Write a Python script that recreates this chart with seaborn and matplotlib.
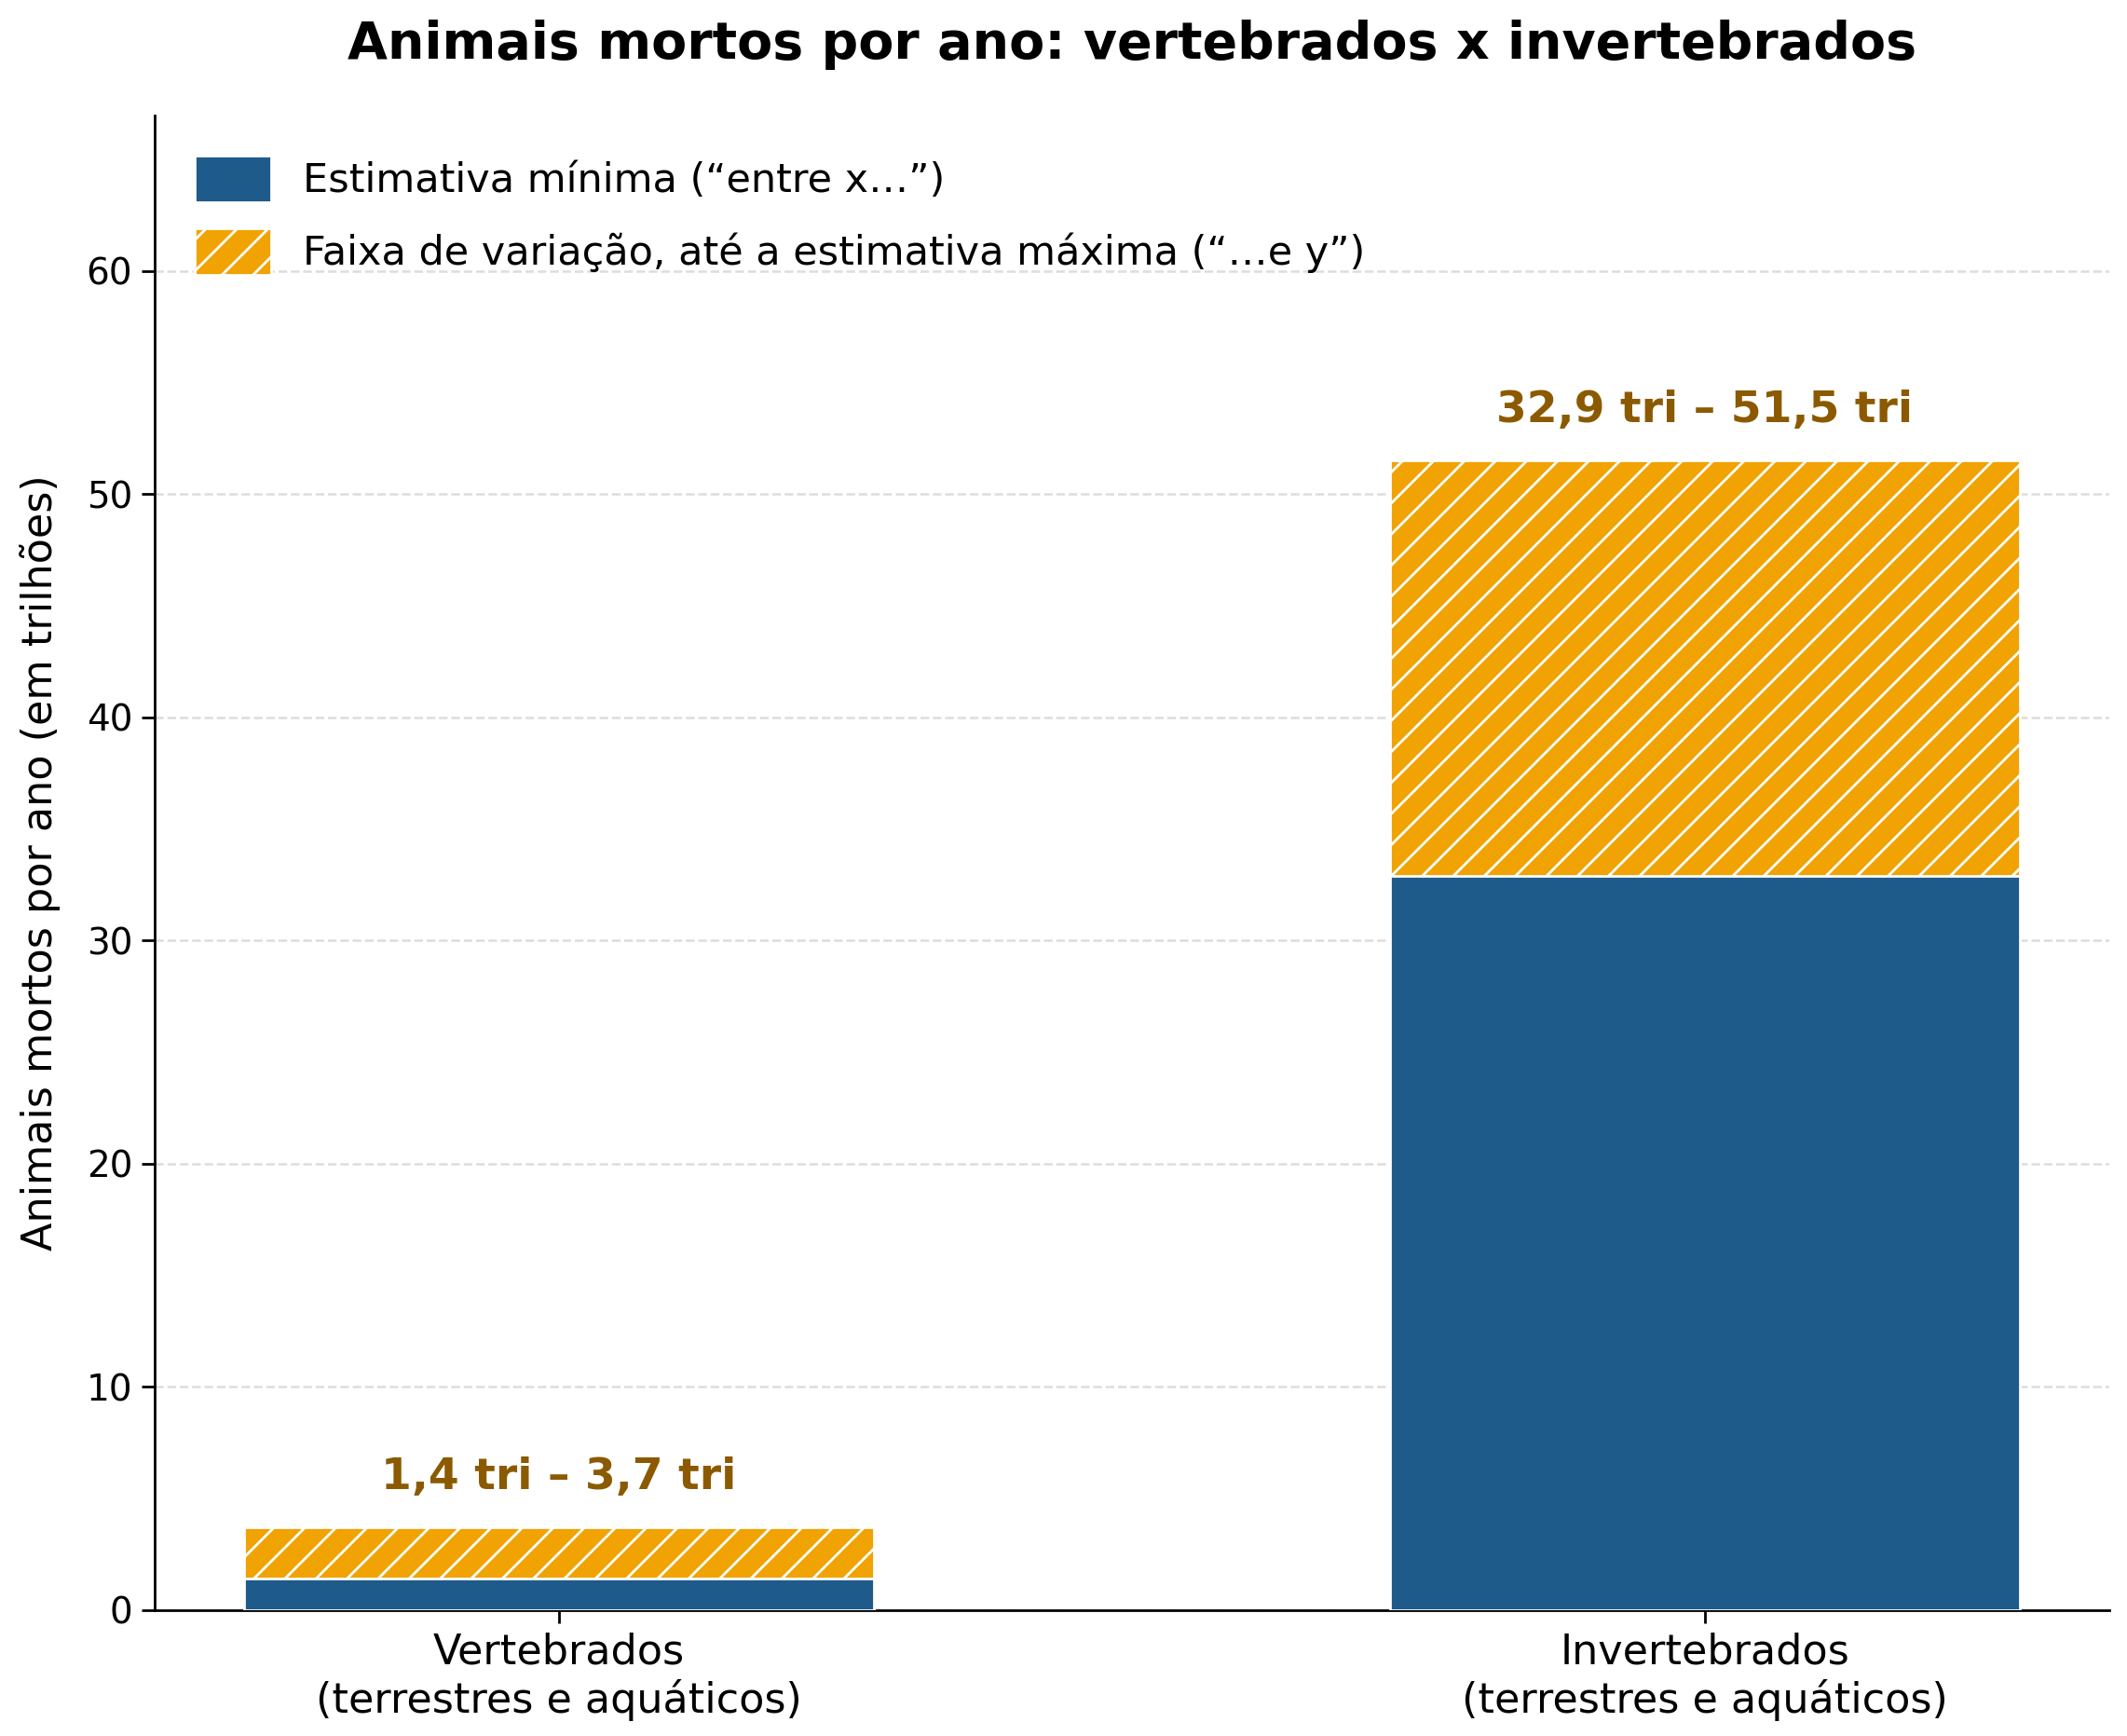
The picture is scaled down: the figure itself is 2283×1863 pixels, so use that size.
import matplotlib
matplotlib.use("Agg")
import matplotlib.pyplot as plt
import seaborn as sns
import pandas as pd
from matplotlib.patches import Patch

categories = ["Vertebrados\n(terrestres e aquáticos)", "Invertebrados\n(terrestres e aquáticos)"]
min_values = [1.4, 32.9]
max_values = [3.7, 51.5]
labels = ["1,4 tri – 3,7 tri", "32,9 tri – 51,5 tri"]

blue = "#1F5B8A"
orange = "#F0A303"
label_color = "#8B5A00"

sns.set_theme(style="white")
plt.rcParams["font.family"] = ["DejaVu Sans"]
plt.rcParams["hatch.linewidth"] = 1.0
plt.rcParams["text.color"] = "black"
plt.rcParams["axes.labelcolor"] = "black"
plt.rcParams["xtick.color"] = "black"
plt.rcParams["ytick.color"] = "black"

df = pd.DataFrame({"cat": categories, "min": min_values, "max": max_values})

fig = plt.figure(figsize=(2283 / 200, 1863 / 200), dpi=200)
ax = fig.add_axes([0.0727, 0.0725, 0.9190, 0.8609])

sns.barplot(data=df, x="cat", y="max", color=orange, saturation=1, hatch="//",
            edgecolor="white", linewidth=1.0, width=0.55, ax=ax, zorder=2)
sns.barplot(data=df, x="cat", y="min", color=blue, saturation=1,
            edgecolor="white", linewidth=1.0, width=0.55, ax=ax, zorder=3)

for i, (mx, lab) in enumerate(zip(max_values, labels)):
    ax.text(i, mx + 1.3, lab, ha="center", va="bottom", fontsize=17,
            fontweight="bold", color=label_color)

ax.set_xlim(-0.353, 1.353)
ax.set_ylim(0, max(max_values) * 1.3)
ax.set_xlabel("")
ax.set_ylabel("Animais mortos por ano (em trilhões)", fontsize=16, labelpad=10)
ax.set_title("Animais mortos por ano: vertebrados x invertebrados",
             fontsize=20, fontweight="bold", pad=22, color="black")
ax.tick_params(axis="y", labelsize=14, length=5, width=1, left=True)
ax.tick_params(axis="x", labelsize=16, length=5, width=1, bottom=True)
ax.yaxis.grid(True, linestyle="--", color="#DDDDDD", linewidth=0.9, zorder=0)
ax.set_axisbelow(True)
for s in ["top", "right"]:
    ax.spines[s].set_visible(False)
for s in ["left", "bottom"]:
    ax.spines[s].set_color("black")
    ax.spines[s].set_linewidth(1.0)

handles = [Patch(facecolor=blue, edgecolor="white", label="Estimativa mínima (“entre x…”)"),
           Patch(facecolor=orange, edgecolor="white", hatch="//",
                 label="Faixa de variação, até a estimativa máxima (“…e y”)")]
ax.legend(handles=handles, loc="upper left", frameon=False, fontsize=15.5,
          handlelength=1.9, handleheight=1.4, borderaxespad=0.6, labelspacing=0.65)

fig.savefig("out.png", dpi=200)
